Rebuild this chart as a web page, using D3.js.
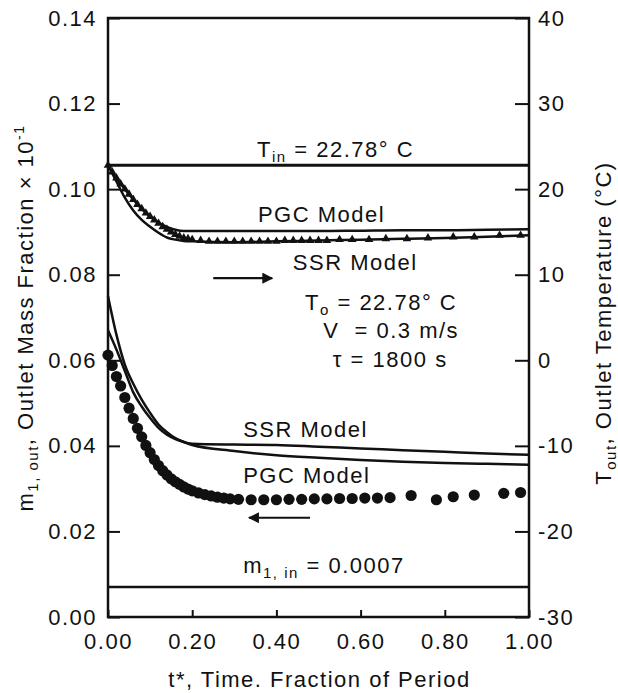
<html>
<head>
<meta charset="utf-8">
<style>
  body { margin: 0; background: #fff; }
  text { font-family: "Liberation Sans", Arial, sans-serif; font-size: 22px; letter-spacing: 1.5px; fill: #111; white-space: pre; }
  .frame { fill: none; stroke: #111; stroke-width: 2.5; }
  .model { fill: none; stroke: #111; stroke-width: 2.5; }
  .ref { stroke: #111; stroke-width: 3; }
  .axis line { stroke: #111; stroke-width: 2; }
  .axis path { display: none; }
</style>
</head>
<body>
<svg width="618" height="693"></svg>
<script src="https://d3js.org/d3.v7.min.js"></script>
<script>
// axis ticks
var xTicks = [0, 0.2, 0.4, 0.6, 0.8, 1.0];
var massTicks = [0, 0.02, 0.04, 0.06, 0.08, 0.10, 0.12, 0.14];
var tempTicks = [-30, -20, -10, 0, 10, 20, 30, 40];

// reference levels
var tempIn = 22.78;
var massIn = 0.007;

// measured outlet mass fraction (circles)
var massDataT = [0, 0.01, 0.02, 0.03, 0.04, 0.05, 0.06, 0.07, 0.08, 0.09, 0.10, 0.11, 0.12, 0.13, 0.14,
  0.15, 0.16, 0.17, 0.18, 0.19, 0.20, 0.215, 0.23, 0.245, 0.26, 0.275, 0.29, 0.31, 0.34, 0.37, 0.40,
  0.43, 0.46, 0.49, 0.52, 0.55, 0.58, 0.61, 0.64, 0.67, 0.72, 0.78, 0.82, 0.87, 0.94, 0.98];
var massData = [0.0612, 0.0588, 0.0562, 0.0540, 0.0513, 0.0488, 0.0464, 0.0441, 0.0421, 0.0401, 0.0384,
  0.0368, 0.0354, 0.0342, 0.0332, 0.0323, 0.0316, 0.0310, 0.0304, 0.0299, 0.0295, 0.0290, 0.0286, 0.0283,
  0.0280, 0.0278, 0.0276, 0.0275, 0.0274, 0.0274, 0.0274, 0.0275, 0.0275, 0.0276, 0.0276, 0.0277, 0.0277,
  0.0278, 0.0278, 0.0279, 0.0284, 0.0274, 0.0281, 0.0285, 0.0289, 0.0291];

// measured outlet temperature (triangles)
var tempDataT = [0, 0.01, 0.02, 0.03, 0.04, 0.05, 0.06, 0.07, 0.08, 0.09, 0.10, 0.11, 0.12, 0.13, 0.14,
  0.15, 0.16, 0.17, 0.18, 0.19, 0.20, 0.22, 0.24, 0.26, 0.28, 0.30, 0.32, 0.34, 0.36, 0.38, 0.40, 0.42,
  0.44, 0.46, 0.48, 0.50, 0.52, 0.55, 0.58, 0.62, 0.66, 0.71, 0.76, 0.82, 0.87, 0.93, 0.98];
var tempData = [22.78, 22.0, 21.3, 20.6, 20.0, 19.4, 18.8, 18.2, 17.7, 17.2, 16.8, 16.4, 16.0, 15.6, 15.3,
  15.0, 14.7, 14.5, 14.3, 14.2, 14.1, 14.0, 13.9, 13.9, 13.9, 13.9, 13.9, 13.9, 13.9, 13.9, 13.9, 14.0,
  14.0, 14.0, 14.0, 14.0, 14.0, 14.1, 14.1, 14.1, 14.2, 14.2, 14.3, 14.4, 14.4, 14.6, 14.6];

// model curves
var modelT = [0, 0.02, 0.04, 0.06, 0.08, 0.10, 0.12, 0.14, 0.16, 0.18, 0.20, 0.30, 0.40, 0.50, 0.60, 0.70, 0.80, 0.90, 1.00];
var ssrMass = [0.075, 0.066, 0.059, 0.0545, 0.0508, 0.0477, 0.0450, 0.0432, 0.0418, 0.0409, 0.0405, 0.0403, 0.0402, 0.0398, 0.0394, 0.0390, 0.0386, 0.0382, 0.0379];
var pgcMass = [0.067, 0.0625, 0.0575, 0.0525, 0.0492, 0.0465, 0.0442, 0.0426, 0.0416, 0.0409, 0.0402, 0.0388, 0.0378, 0.0372, 0.0367, 0.0363, 0.0360, 0.0358, 0.0356];
var ssrTemp = [22.78, 20.9, 19.0, 17.5, 16.4, 15.6, 14.9, 14.35, 14.1, 13.95, 13.9, 13.8, 13.9, 14.0, 14.1, 14.2, 14.3, 14.45, 14.6];
var pgcTemp = [22.78, 21.3, 20.0, 18.8, 17.7, 16.8, 16.1, 15.6, 15.25, 15.1, 15.1, 15.1, 15.1, 15.1, 15.15, 15.2, 15.2, 15.25, 15.3];

var svg = d3.select("svg");
var margin = {left: 108, right: 529, top: 18, bottom: 617};

var x = d3.scaleLinear().domain([0, 1]).range([margin.left, margin.right]);
var yM = d3.scaleLinear().domain([0, 0.14]).range([margin.bottom, margin.top]);
var yT = d3.scaleLinear().domain([-30, 40]).range([margin.bottom, margin.top]);

// axes
svg.append("g").attr("class", "axis")
  .attr("transform", "translate(" + margin.left + ",0)")
  .call(d3.axisLeft(yM).tickValues(massTicks).tickSize(-12).tickPadding(11).tickFormat(d3.format(".2f")));

svg.append("g").attr("class", "axis")
  .attr("transform", "translate(" + margin.right + ",0)")
  .call(d3.axisRight(yT).tickValues(tempTicks).tickSize(-14).tickPadding(9).tickFormat(function(d) { return d < 0 ? "-" + Math.abs(d) : d; }));

svg.append("g").attr("class", "axis")
  .attr("transform", "translate(0," + margin.bottom + ")")
  .call(d3.axisBottom(x).tickValues(xTicks).tickSize(-7).tickPadding(16).tickFormat(d3.format(".2f")));

svg.selectAll(".axis text").attr("fill", "#111").style("font-size", "22px");

svg.append("rect").attr("class", "frame")
  .attr("x", margin.left).attr("y", margin.top)
  .attr("width", margin.right - margin.left).attr("height", margin.bottom - margin.top);

// reference lines
svg.append("line").attr("class", "ref")
  .attr("x1", x(0)).attr("x2", x(1)).attr("y1", yT(tempIn)).attr("y2", yT(tempIn));
svg.append("line").attr("class", "ref").style("stroke-width", 2.5)
  .attr("x1", x(0)).attr("x2", x(1)).attr("y1", yM(massIn)).attr("y2", yM(massIn));

// model lines
function lineFor(ys, scale) {
  return d3.line().curve(d3.curveMonotoneX)
    .x(function(d, i) { return x(modelT[i]); })
    .y(function(d) { return scale(d); })(ys);
}
[ssrMass, pgcMass].forEach(function(s) {
  svg.append("path").attr("class", "model").attr("d", lineFor(s, yM));
});
[ssrTemp, pgcTemp].forEach(function(s) {
  svg.append("path").attr("class", "model").attr("d", lineFor(s, yT));
});

// data markers
svg.append("g").selectAll("circle")
  .data(massData).enter().append("circle")
  .attr("cx", function(d, i) { return x(massDataT[i]); })
  .attr("cy", function(d) { return yM(d); })
  .attr("r", 5.6)
  .attr("fill", "#111");

svg.append("g").selectAll("path")
  .data(tempData).enter().append("path")
  .attr("d", d3.symbol().type(d3.symbolTriangle).size(32))
  .attr("transform", function(d, i) { return "translate(" + x(tempDataT[i]) + "," + yT(d) + ")"; })
  .attr("fill", "#111");

// arrows
var defs = svg.append("defs");
defs.append("marker").attr("id", "head").attr("viewBox", "0 0 10 10")
  .attr("refX", 9).attr("refY", 5).attr("markerWidth", 7).attr("markerHeight", 5)
  .attr("markerUnits", "strokeWidth").attr("orient", "auto")
  .append("path").attr("d", "M0,0L10,5L0,10z").attr("fill", "#111");

svg.append("line").attr("stroke", "#111").attr("stroke-width", 2.2).attr("marker-end", "url(#head)")
  .attr("x1", x(0.25)).attr("x2", x(0.39)).attr("y1", yT(9.6)).attr("y2", yT(9.6));
svg.append("line").attr("stroke", "#111").attr("stroke-width", 2.2).attr("marker-end", "url(#head)")
  .attr("x1", x(0.48)).attr("x2", x(0.335)).attr("y1", yM(0.0232)).attr("y2", yM(0.0232));

// annotations
function label(tx, ty, parts) {
  var t = svg.append("text").attr("x", tx).attr("y", ty);
  parts.forEach(function(p) {
    var s = t.append("tspan").text(p[0]);
    if (p[1] === "sub") s.attr("dy", 5).style("font-size", "15px");
    if (p[1] === "up") s.attr("dy", -5);
  });
  return t;
}

label(x(0.354), yT(23.76), [["T"], ["in", "sub"], [" = 22.78° C", "up"]]);
label(x(0.356), yT(16.16), [["PGC Model"]]);
label(x(0.439), yT(10.55), [["SSR Model"]]);
label(x(0.468), yT(5.88), [["T"], ["o", "sub"], [" = 22.78° C", "up"]]);
label(x(0.511), yT(2.6), [["V  = 0.3 m/s"]]);
label(x(0.534), yT(-0.79), [["τ = 1800 s"]]);
label(x(0.321), yM(0.0421), [["SSR Model"]]);
label(x(0.321), yM(0.0313), [["PGC Model"]]);
label(x(0.321), yM(0.0103), [["m"], ["1, in", "sub"], [" = 0.0007", "up"]]);

// axis titles
svg.append("text").attr("x", (margin.left + margin.right) / 2 + 1).attr("y", 687).attr("text-anchor", "middle")
  .text("t*, Time. Fraction of Period");

var lt = svg.append("text").attr("text-anchor", "middle").attr("transform", "translate(33,318) rotate(-90)");
lt.append("tspan").text("m");
lt.append("tspan").attr("dy", 5).style("font-size", "15px").text("1, out");
lt.append("tspan").attr("dy", -5).text(", Outlet Mass Fraction × 10");
lt.append("tspan").attr("dy", -9).style("font-size", "14px").text("-1");

var rt = svg.append("text").attr("text-anchor", "middle").attr("transform", "translate(611,323) rotate(-90)");
rt.append("tspan").text("T");
rt.append("tspan").attr("dy", 5).style("font-size", "15px").text("out");
rt.append("tspan").attr("dy", -5).text(", Outlet Temperature (°C)");
</script>
</body>
</html>
